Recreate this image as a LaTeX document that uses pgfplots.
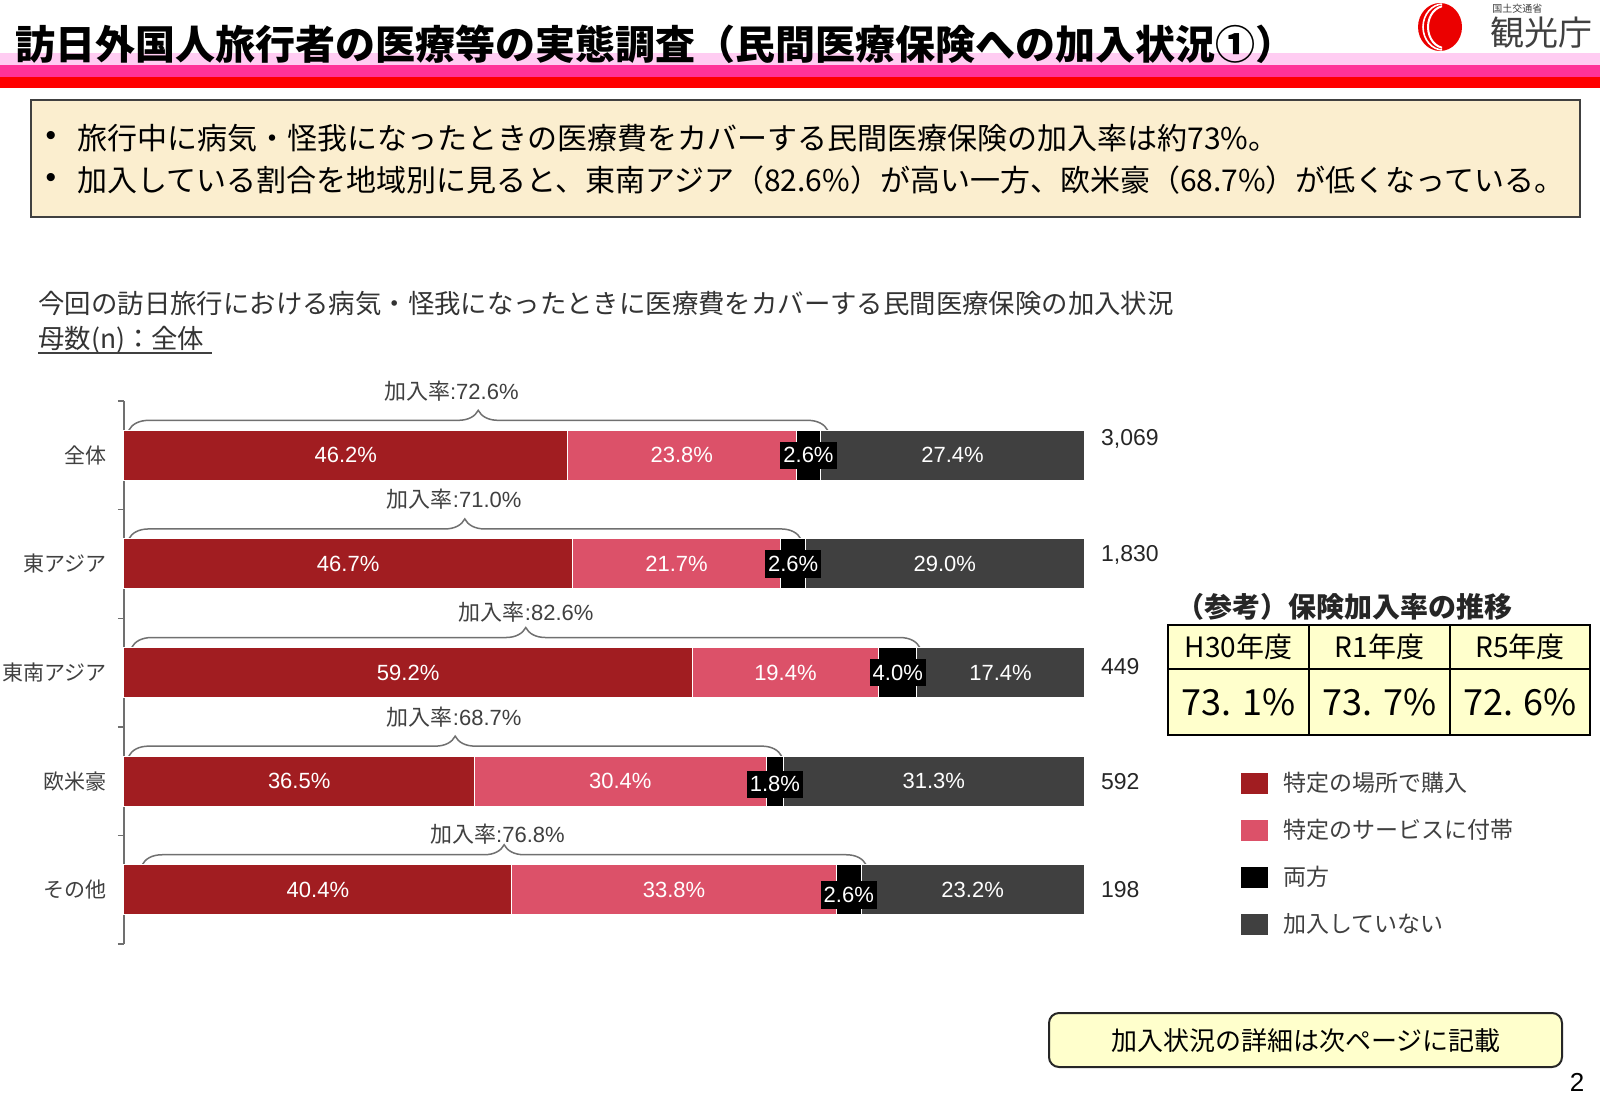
\documentclass[border=0pt]{standalone}
\usepackage{fontspec}
\setmainfont{Liberation Sans}
\newfontfamily\jp{Noto Sans CJK JP}
\usepackage{pgfplots}
\pgfplotsset{compat=1.18}
\usetikzlibrary{decorations.pathreplacing}
\definecolor{cA}{HTML}{A11D21}
\definecolor{cB}{HTML}{DC5169}
\definecolor{cC}{HTML}{000000}
\definecolor{cD}{HTML}{404040}
\definecolor{txt}{HTML}{404040}
\definecolor{bandA}{HTML}{FFCCF2}
\definecolor{bandB}{HTML}{FF3399}
\definecolor{bandC}{HTML}{FF0000}
\definecolor{boxfill}{HTML}{FBEECF}
\definecolor{tabfill}{HTML}{FFFFCC}
\definecolor{bracecol}{HTML}{707070}
\newcommand{\fs}[1]{\fontsize{#1}{#1}\selectfont}
\pgfplotsset{sqleg/.style={legend image code/.code={\fill[##1] (0pt,-5.5pt) rectangle (14pt,5.5pt);}}}
\begin{document}
\begin{tikzpicture}[x=0.5pt,y=-0.5pt,
  lab/.style={text=white, font=\fs{11}},
  bk/.style={text=white, font=\fs{11}, fill=black, inner xsep=1.5pt, inner ysep=3pt},
  blab/.style={text=txt, font=\fs{11}},
  nlab/.style={anchor=west, xshift=5pt, text=black!85, font=\fs{11.5}}]
\path[use as bounding box, fill=white] (0,0) rectangle (1600,1108);
% header bands
\fill[bandA] (0,53) rectangle (1600,65);
\fill[bandB] (0,65) rectangle (1600,77);
\fill[bandC] (0,77) rectangle (1600,88);
\node[anchor=west, inner sep=0pt] at (15,44) {\jp\bfseries\fs{20}訪日外国人旅行者の医療等の実態調査（民間医療保険への加入状況①）};
% logo
\fill[red!92!black] (1440,27) ellipse [x radius=22, y radius=24];
\begin{scope}
\clip (1400,0) rectangle (1442,60);
\draw[white, line width=1pt] (1445,27) ellipse [x radius=17, y radius=21];
\draw[white, line width=0.8pt] (1443,27) ellipse [x radius=20, y radius=23];
\end{scope}
\node[anchor=west, inner sep=0pt, text=txt] at (1492,9) {\jp\fs{5}国土交通省};
\node[anchor=west, inner sep=0pt, text=black!75] at (1490,33) {\jp\fs{17}観光庁};
% text box
\draw[fill=boxfill, draw=black!75, line width=0.75pt] (31,100) rectangle (1580,217);
\node[inner sep=0pt] at (51,138) {\fs{15}•};
\node[anchor=west, inner sep=0pt] at (77,138) {\jp\fs{15}旅行中に病気・怪我になったときの医療費をカバーする民間医療保険の加入率は約73\%。};
\node[inner sep=0pt] at (51,180) {\fs{15}•};
\node[anchor=west, inner sep=0pt] at (77,180) {\jp\fs{15}加入している割合を地域別に見ると、東南アジア（82.6\%）が高い一方、欧米豪（68.7\%）が低くなっている。};
% chart titles
\node[anchor=west, inner sep=0pt, text=black!80] at (38,304) {\jp\fs{13.2}今回の訪日旅行における病気・怪我になったときに医療費をカバーする民間医療保険の加入状況};
\node[anchor=west, inner sep=0pt, text=black!80] at (38,340) {\jp\fs{13.2}母数(n)：全体};
\draw[black!75, line width=0.6pt] (38,353) -- (212,353);
% reference table
\node[anchor=west, inner sep=0pt, text=black!85] at (1176,607) {\jp\bfseries\fs{14}（参考）保険加入率の推移};
\fill[tabfill] (1168,625) rectangle (1590,735);
\draw[black, line width=0.8pt] (1168,625) rectangle (1590,735) (1168,669) -- (1590,669) (1309,625) -- (1309,735) (1450,625) -- (1450,735);
\node at (1238.5,647) {\jp\fs{14}H30年度};
\node at (1379.5,647) {\jp\fs{14}R1年度};
\node at (1520,647) {\jp\fs{14}R5年度};
\node at (1238.5,702) {\jp\fs{18}73. 1\%};
\node at (1379.5,702) {\jp\fs{18}73. 7\%};
\node at (1520,702) {\jp\fs{18}72. 6\%};
% bottom box
\draw[fill=tabfill, rounded corners=5pt, line width=1pt, draw=black!85] (1049,1013) rectangle (1562,1067);
\node at (1306,1041) {\jp\fs{13}加入状況の詳細は次ページに記載};
\node at (1577,1082) {\fs{13}2};
% chart
\coordinate (axpos) at (124,944);
\begin{axis}[
  at={(axpos)}, anchor=south west,
  scale only axis, width=480pt, height=271.5pt,
  xbar stacked, bar width=25pt,
  xmin=0, xmax=100, ymin=-0.5, ymax=4.5, y dir=reverse,
  clip=false,
  axis x line=none,
  axis y line*=left,
  y axis line style={draw=bracecol, line width=0.7pt, -},
  ytick={0,1,2,3,4},
  yticklabels={全体,東アジア,東南アジア,欧米豪,その他},
  minor ytick={-0.5,0.5,1.5,2.5,3.5,4.5},
  major tick length=0pt, minor tick length=3pt,
  tick align=outside,
  minor tick style={draw=bracecol, line width=0.7pt},
  yticklabel style={font=\jp\fs{10.5}, text=txt, xshift=-5pt},
  legend style={at={(axis description cs:1.1625,0.317)}, anchor=north west, draw=none, fill=none, font=\jp\fs{11.5}, text=txt, row sep=12pt, inner sep=0pt, nodes={inner sep=0pt}, /tikz/every odd column/.append style={column sep=7pt}},
  legend cell align=left,
  every axis plot/.append style={draw=white, line width=0.5pt},
]
\addplot[fill=cA, sqleg] coordinates {(46.2,0) (46.7,1) (59.2,2) (36.5,3) (40.4,4)};
\addlegendentry{特定の場所で購入}
\addplot[fill=cB, sqleg] coordinates {(23.8,0) (21.7,1) (19.4,2) (30.4,3) (33.8,4)};
\addlegendentry{特定のサービスに付帯}
\addplot[fill=cC, sqleg] coordinates {(2.6,0) (2.6,1) (4.0,2) (1.8,3) (2.6,4)};
\addlegendentry{両方}
\addplot[fill=cD, sqleg] coordinates {(27.4,0) (29.0,1) (17.4,2) (31.3,3) (23.2,4)};
\addlegendentry{加入していない}
% label anchors (segment centres)
\coordinate (a0) at (axis cs:23.1,0);
\coordinate (b0) at (axis cs:58.1,0);
\coordinate (c0) at (axis cs:71.3,0);
\coordinate (d0) at (axis cs:86.3,0);
\coordinate (a1) at (axis cs:23.35,1);
\coordinate (b1) at (axis cs:57.55,1);
\coordinate (c1) at (axis cs:69.7,1);
\coordinate (d1) at (axis cs:85.5,1);
\coordinate (a2) at (axis cs:29.6,2);
\coordinate (b2) at (axis cs:68.9,2);
\coordinate (c2) at (axis cs:80.6,2);
\coordinate (d2) at (axis cs:91.3,2);
\coordinate (a3) at (axis cs:18.25,3);
\coordinate (b3) at (axis cs:51.7,3);
\coordinate (c3) at (axis cs:67.8,3.03);
\coordinate (d3) at (axis cs:84.35,3);
\coordinate (a4) at (axis cs:20.2,4);
\coordinate (b4) at (axis cs:57.3,4);
\coordinate (c4) at (axis cs:75.5,4.05);
\coordinate (d4) at (axis cs:88.4,4);
% braces
\draw[bracecol, line width=0.75pt, decorate, decoration={brace, amplitude=10pt}] (axis cs:0.5,-0.23) -- (axis cs:73.3,-0.23);
\draw[bracecol, line width=0.75pt, decorate, decoration={brace, amplitude=10pt}] (axis cs:0.5,0.77) -- (axis cs:70.5,0.77);
\draw[bracecol, line width=0.75pt, decorate, decoration={brace, amplitude=10pt}] (axis cs:0.8,1.77) -- (axis cs:82.9,1.77);
\draw[bracecol, line width=0.75pt, decorate, decoration={brace, amplitude=10pt}] (axis cs:0.5,2.77) -- (axis cs:68.5,2.77);
\draw[bracecol, line width=0.75pt, decorate, decoration={brace, amplitude=10pt}] (axis cs:1.9,3.77) -- (axis cs:77.3,3.77);
\node[blab] at (axis cs:34.1,-0.589) {{\jp 加入率}:72.6\%};
\node[blab] at (axis cs:34.4,0.402) {{\jp 加入率}:71.0\%};
\node[blab] at (axis cs:41.9,1.448) {{\jp 加入率}:82.6\%};
\node[blab] at (axis cs:34.4,2.411) {{\jp 加入率}:68.7\%};
\node[blab] at (axis cs:38.9,3.485) {{\jp 加入率}:76.8\%};
% sample sizes
\node[nlab, yshift=8pt] at (axis cs:100,0) {3,069};
\node[nlab, yshift=4.5pt] at (axis cs:100,1) {1,830};
\node[nlab, yshift=3pt] at (axis cs:100,2) {449};
\node[nlab] at (axis cs:100,3) {592};
\node[nlab] at (axis cs:100,4) {198};
\end{axis}
% segment labels on top of the bars
\node[lab] at (a0) {46.2\%};
\node[lab] at (b0) {23.8\%};
\node[bk] at (c0) {2.6\%};
\node[lab] at (d0) {27.4\%};
\node[lab] at (a1) {46.7\%};
\node[lab] at (b1) {21.7\%};
\node[bk] at (c1) {2.6\%};
\node[lab] at (d1) {29.0\%};
\node[lab] at (a2) {59.2\%};
\node[lab] at (b2) {19.4\%};
\node[bk] at (c2) {4.0\%};
\node[lab] at (d2) {17.4\%};
\node[lab] at (a3) {36.5\%};
\node[lab] at (b3) {30.4\%};
\node[bk] at (c3) {1.8\%};
\node[lab] at (d3) {31.3\%};
\node[lab] at (a4) {40.4\%};
\node[lab] at (b4) {33.8\%};
\node[bk] at (c4) {2.6\%};
\node[lab] at (d4) {23.2\%};
\end{tikzpicture}
\end{document}
